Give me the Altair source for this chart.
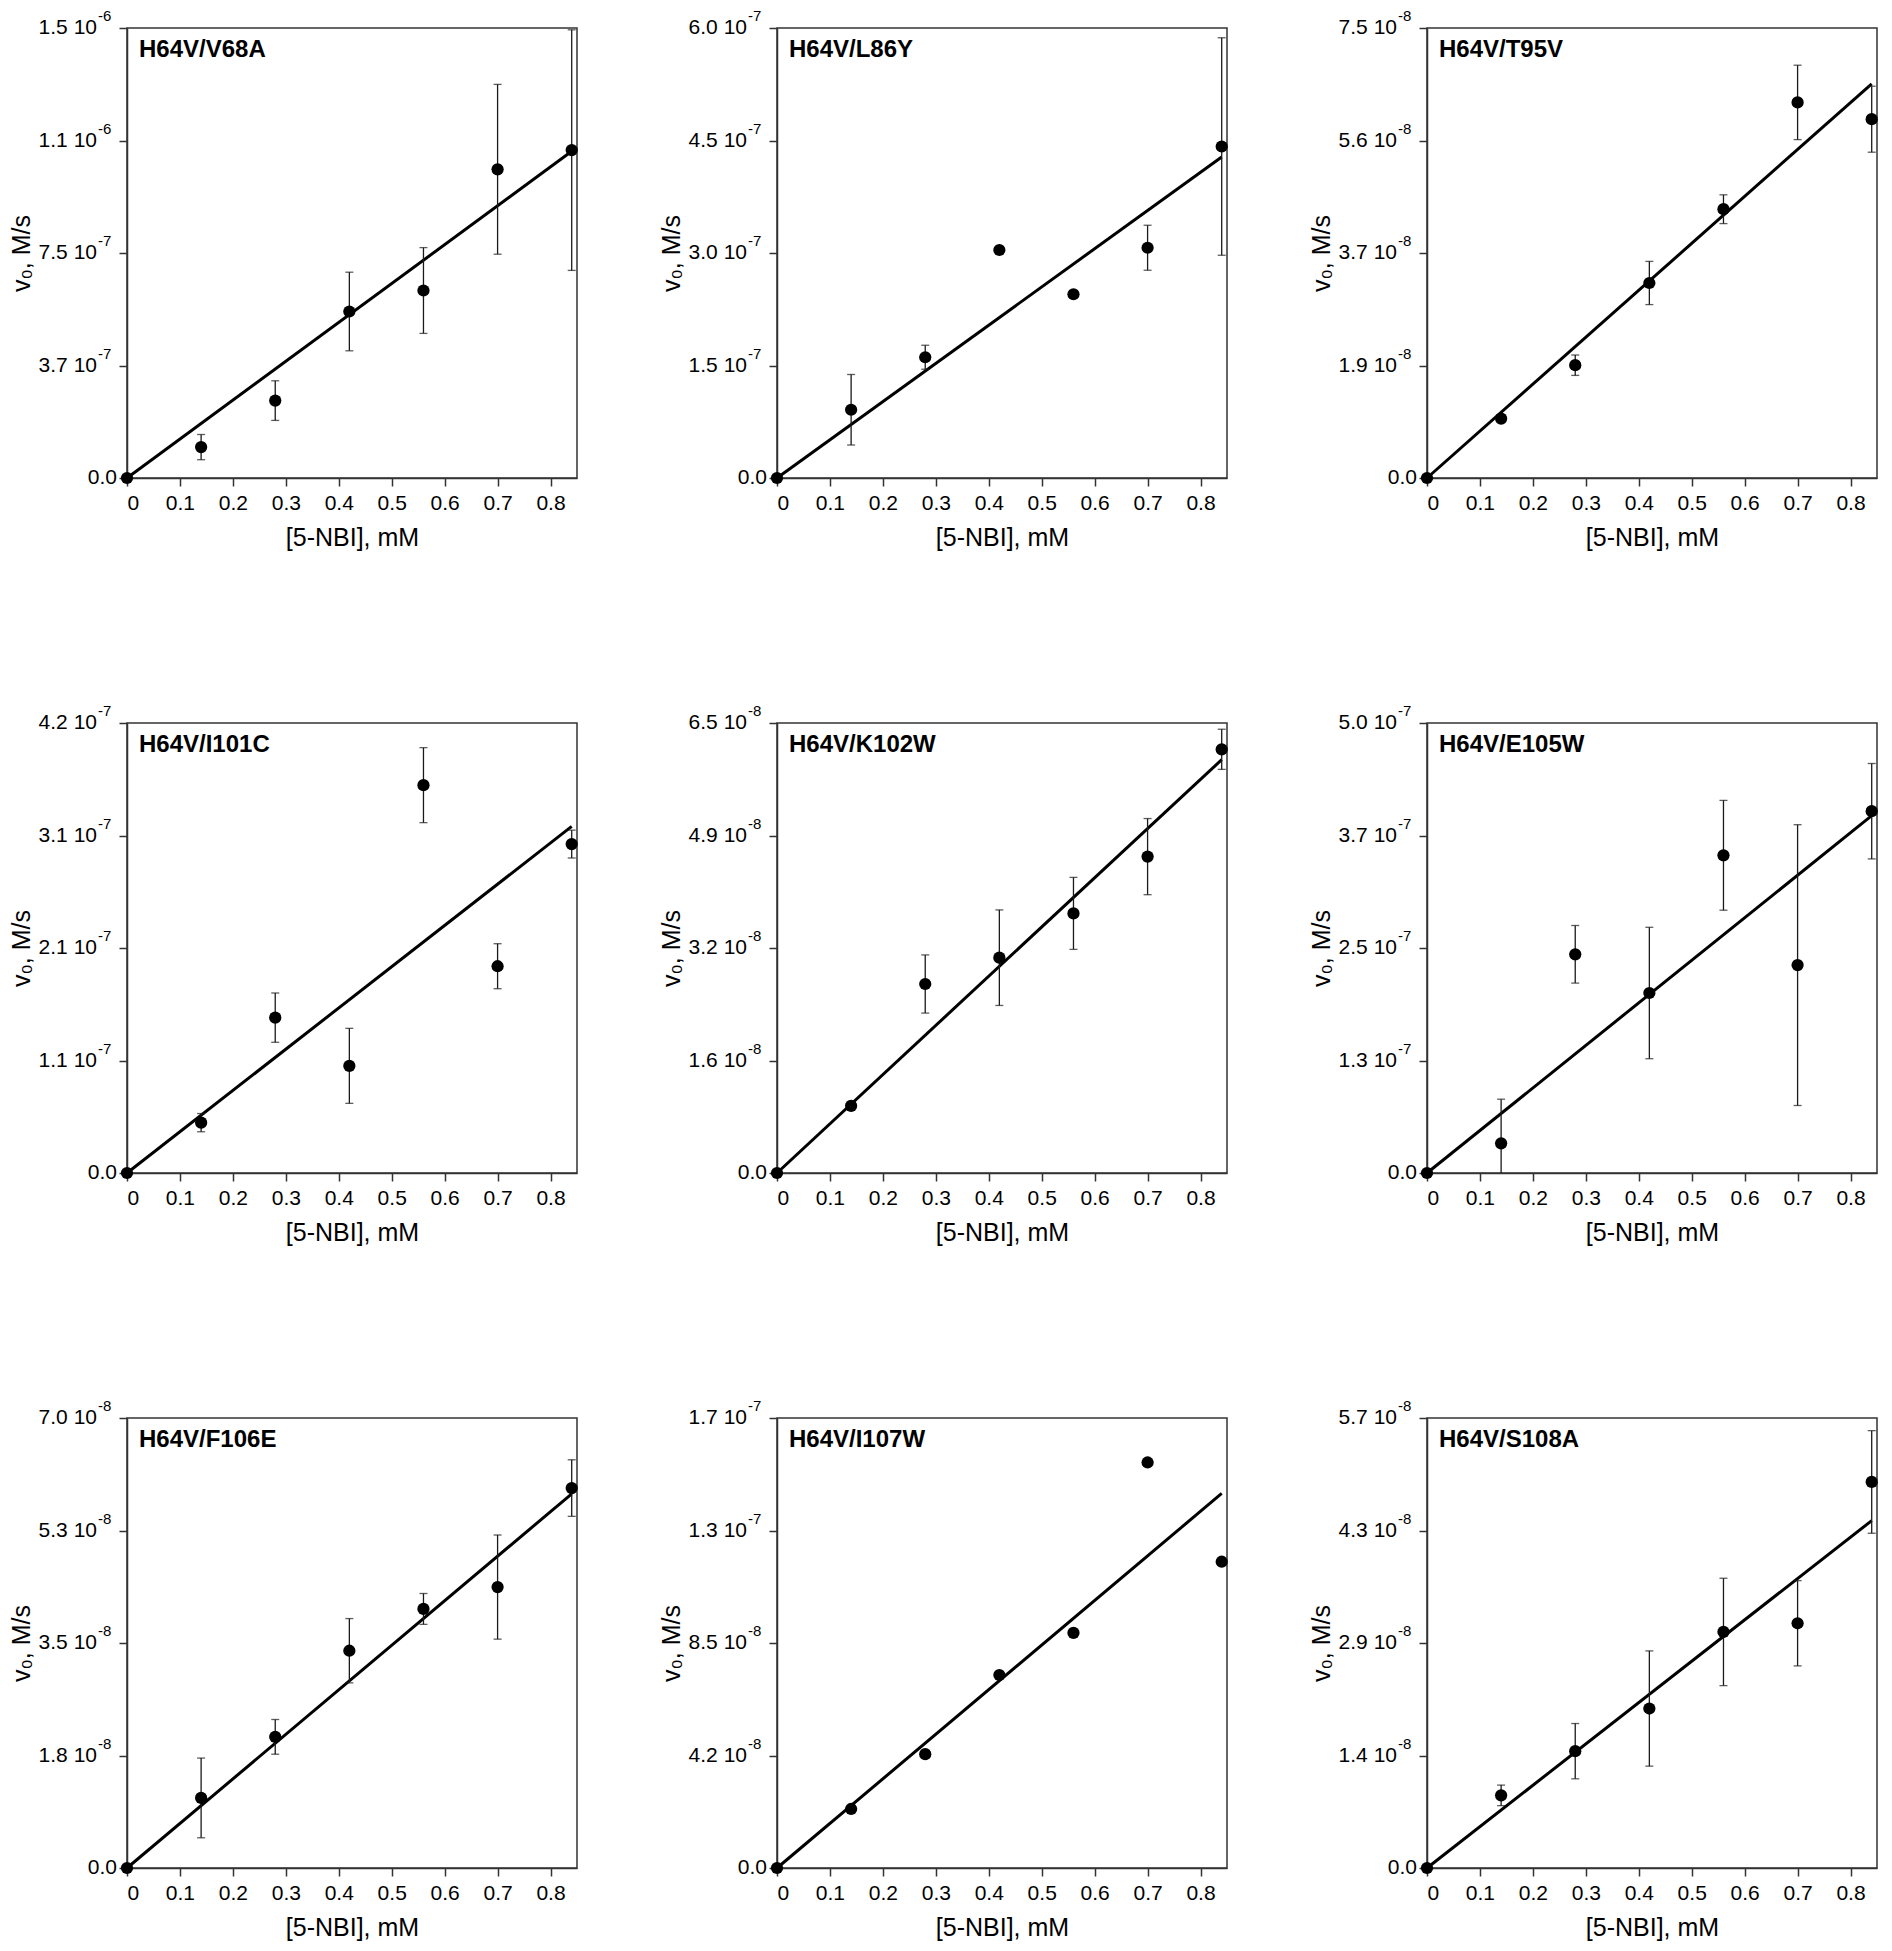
import altair as alt
import pandas as pd

FONT = "Liberation Sans"

# concentration of 5-NBI (mM)
X_MM = [0.0, 0.14, 0.28, 0.42, 0.56, 0.70, 0.84]
X_TICKS = [0, 0.1, 0.2, 0.3, 0.4, 0.5, 0.6, 0.7, 0.8]

NAMES = ["H64V/V68A", "H64V/L86Y", "H64V/T95V",
         "H64V/I101C", "H64V/K102W", "H64V/E105W",
         "H64V/F106E", "H64V/I107W", "H64V/S108A"]

Y_MAX = [1.5e-6, 6.0e-7, 7.5e-8,
         4.2e-7, 6.5e-8, 5.0e-7,
         7.0e-8, 1.7e-7, 5.7e-8]

# initial rates v0 (M/s)
V_V68A = [0, 1.03e-7, 2.58e-7, 5.55e-7, 6.25e-7, 1.029e-6, 1.093e-6]
V_L86Y = [0, 9.1e-8, 1.61e-7, 3.04e-7, 2.45e-7, 3.07e-7, 4.42e-7]
V_T95V = [0, 9.9e-9, 1.88e-8, 3.25e-8, 4.48e-8, 6.26e-8, 5.98e-8]
V_I101C = [0, 4.7e-8, 1.45e-7, 1.0e-7, 3.62e-7, 1.93e-7, 3.07e-7]
V_K102W = [0, 9.7e-9, 2.73e-8, 3.11e-8, 3.75e-8, 4.57e-8, 6.12e-8]
V_E105W = [0, 3.3e-8, 2.43e-7, 2.0e-7, 3.53e-7, 2.31e-7, 4.02e-7]
V_F106E = [0, 1.09e-8, 2.04e-8, 3.38e-8, 4.03e-8, 4.37e-8, 5.91e-8]
V_I107W = [0, 2.23e-8, 4.30e-8, 7.29e-8, 8.88e-8, 1.532e-7, 1.157e-7]
V_S108A = [0, 9.2e-9, 1.48e-8, 2.02e-8, 2.99e-8, 3.10e-8, 4.89e-8]

# error (+/-) on v0
E_V68A = [0, 4.2e-8, 6.6e-8, 1.31e-7, 1.43e-7, 2.83e-7, 4.01e-7]
E_L86Y = [0, 4.7e-8, 1.6e-8, 0, 0, 3.0e-8, 1.45e-7]
E_T95V = [0, 0, 1.7e-9, 3.6e-9, 2.4e-9, 6.2e-9, 5.5e-9]
E_I101C = [0, 8.5e-9, 2.3e-8, 3.5e-8, 3.5e-8, 2.1e-8, 1.3e-8]
E_K102W = [0, 0, 4.2e-9, 6.9e-9, 5.2e-9, 5.5e-9, 2.9e-9]
E_E105W = [0, 4.9e-8, 3.2e-8, 7.3e-8, 6.1e-8, 1.56e-7, 5.3e-8]
E_F106E = [0, 6.2e-9, 2.7e-9, 5.0e-9, 2.4e-9, 8.1e-9, 4.4e-9]
E_I107W = [0, 0, 0, 0, 0, 0, 0]
E_S108A = [0, 1.3e-9, 3.5e-9, 7.3e-9, 6.8e-9, 5.4e-9, 6.5e-9]

# linear fit, value at x = 0 and at x = 0.84 mM
FIT_START = [0, 0, 0, 0, 0, 0, 0, 0, 0]
FIT_END = [1.089e-6, 4.28e-7, 6.57e-8,
           3.235e-7, 5.97e-8, 3.97e-7,
           5.82e-8, 1.415e-7, 4.40e-8]

# y tick labels: mantissa and exponent
YTICK_MANT = [["0.0", "3.7 10", "7.5 10", "1.1 10", "1.5 10"],
              ["0.0", "1.5 10", "3.0 10", "4.5 10", "6.0 10"],
              ["0.0", "1.9 10", "3.7 10", "5.6 10", "7.5 10"],
              ["0.0", "1.1 10", "2.1 10", "3.1 10", "4.2 10"],
              ["0.0", "1.6 10", "3.2 10", "4.9 10", "6.5 10"],
              ["0.0", "1.3 10", "2.5 10", "3.7 10", "5.0 10"],
              ["0.0", "1.8 10", "3.5 10", "5.3 10", "7.0 10"],
              ["0.0", "4.2 10", "8.5 10", "1.3 10", "1.7 10"],
              ["0.0", "1.4 10", "2.9 10", "4.3 10", "5.7 10"]]
YTICK_EXP = [["", "-7", "-7", "-6", "-6"],
             ["", "-7", "-7", "-7", "-7"],
             ["", "-8", "-8", "-8", "-8"],
             ["", "-7", "-7", "-7", "-7"],
             ["", "-8", "-8", "-8", "-8"],
             ["", "-7", "-7", "-7", "-7"],
             ["", "-8", "-8", "-8", "-8"],
             ["", "-8", "-8", "-7", "-7"],
             ["", "-8", "-8", "-8", "-8"]]

V0 = [V_V68A, V_L86Y, V_T95V, V_I101C, V_K102W, V_E105W, V_F106E, V_I107W, V_S108A]
ERR = [E_V68A, E_L86Y, E_T95V, E_I101C, E_K102W, E_E105W, E_F106E, E_I107W, E_S108A]

W = 450
H = 450
YTITLE = "v₀, M/s"
XTITLE = "[5-NBI], mM"


def panel(i):
    ymax = Y_MAX[i]
    xs = alt.Scale(domain=[0, 0.85], nice=False, zero=False)
    ys = alt.Scale(domain=[0, ymax], nice=False, zero=False)

    pts = pd.DataFrame({"x": X_MM, "v": V0[i], "err": ERR[i]})
    pts["lo"] = pts["v"] - pts["err"]
    pts["hi"] = pts["v"] + pts["err"]
    bars = pts[pts["err"] > 0]
    fit = pd.DataFrame({"x": [X_MM[0], X_MM[-1]], "v": [FIT_START[i], FIT_END[i]]})
    tick_vals = [ymax * k / 4 for k in range(5)]
    ticks = pd.DataFrame({"x": [0.0] * 5, "t": tick_vals,
                          "mant": YTICK_MANT[i], "exp": YTICK_EXP[i]})

    xaxis = alt.Axis(values=X_TICKS,
                     labelExpr="datum.value == 0 ? '0' : format(datum.value, '.1f')",
                     title=XTITLE)
    yaxis = alt.Axis(values=tick_vals, labels=False, title=YTITLE)

    def X(field="x"):
        return alt.X(field + ":Q", scale=xs, axis=xaxis, title=XTITLE)

    def Y(field):
        return alt.Y(field + ":Q", scale=ys, axis=yaxis, title=YTITLE)

    layers = []
    layers.append(
        alt.Chart(fit).mark_line(color="black", strokeWidth=3).encode(x=X(), y=Y("v"))
    )
    if len(bars) > 0:
        layers.append(
            alt.Chart(bars).mark_rule(color="#1a1a1a", strokeWidth=1.3, clip=True).encode(
                x=X(), y=Y("lo"), y2="hi:Q")
        )
        for f in ["lo", "hi"]:
            layers.append(
                alt.Chart(bars).mark_tick(color="#1a1a1a", orient="horizontal", size=8,
                                          thickness=1.3, clip=True).encode(
                    x=X(), y=Y(f))
            )
    layers.append(
        alt.Chart(pts).mark_circle(color="black", size=150, opacity=1).encode(
            x=X(), y=Y("v"))
    )
    layers.append(
        alt.Chart(pd.DataFrame({"name": [NAMES[i]]})).mark_text(
            align="left", baseline="alphabetic", font=FONT, fontSize=24,
            fontWeight="bold", color="black").encode(
            x=alt.value(12), y=alt.value(29), text="name:N")
    )
    layers.append(
        alt.Chart(ticks.iloc[:1]).mark_text(
            align="right", baseline="middle", font=FONT, fontSize=21, color="black").encode(
            x=alt.value(-10), y=Y("t"), text="mant:N")
    )
    layers.append(
        alt.Chart(ticks.iloc[1:]).mark_text(
            align="right", baseline="middle", font=FONT, fontSize=21, color="black").encode(
            x=alt.value(-30), y=Y("t"), text="mant:N")
    )
    layers.append(
        alt.Chart(ticks.iloc[1:]).mark_text(
            align="left", baseline="middle", font=FONT, fontSize=15, color="black", dy=-12).encode(
            x=alt.value(-29), y=Y("t"), text="exp:N")
    )
    return alt.layer(*layers).properties(width=W, height=H)


chart = alt.concat(
    *[panel(i) for i in range(9)],
    columns=3,
    spacing={"row": 245, "column": 200},
    bounds="flush",
).properties(
    padding=0
).configure_view(
    stroke="#333", strokeWidth=1.5
).configure_axis(
    grid=False, domainColor="#333", domainWidth=1.5, tickColor="#333", tickWidth=1.5,
    tickSize=8, labelFont=FONT, labelFontSize=21, labelColor="black", labelPadding=6,
    titleFont=FONT, titleFontSize=25, titleFontWeight="normal", titleColor="black"
).configure_axisY(
    titlePadding=84
).configure_axisX(
    titlePadding=12
)

chart.save("out.html", embed_options={"renderer": "svg", "actions": False})
